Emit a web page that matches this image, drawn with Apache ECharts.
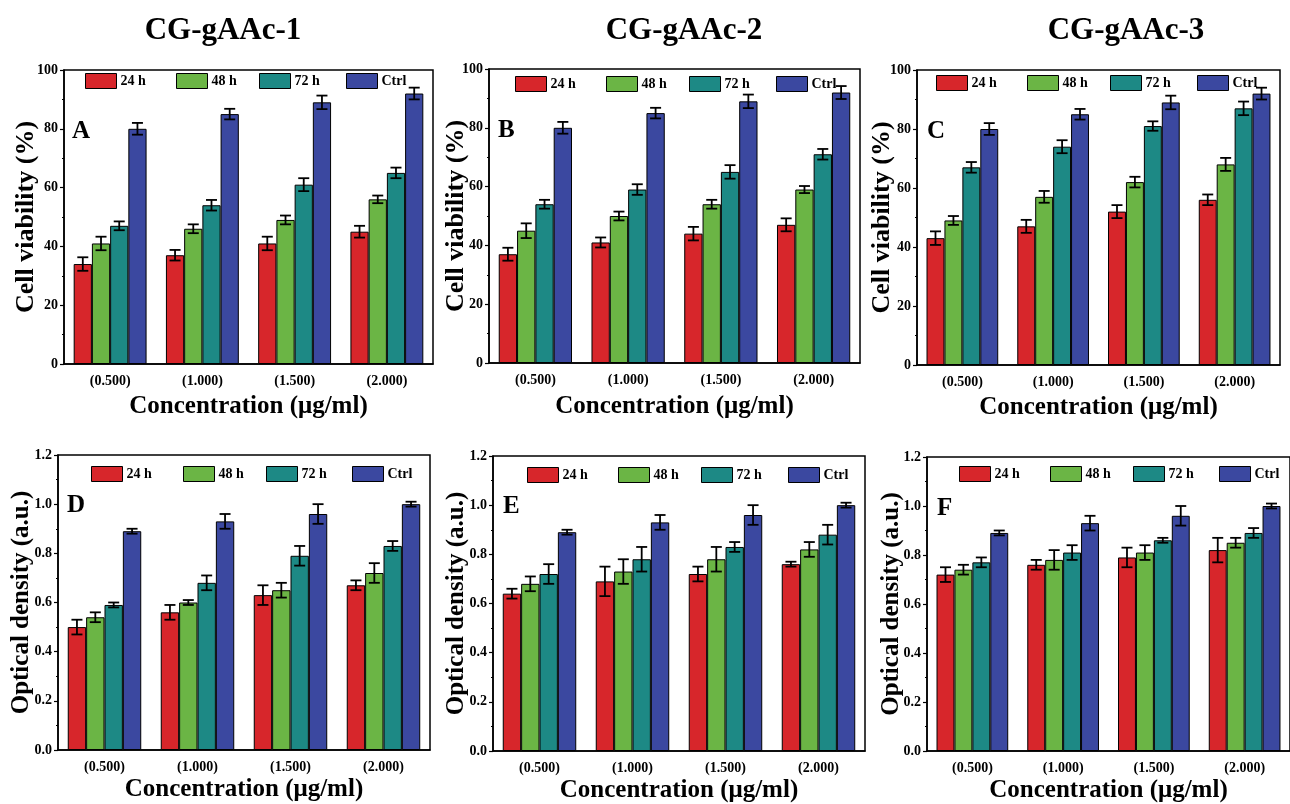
<!DOCTYPE html>
<html><head><meta charset="utf-8">
<script src="https://cdn.jsdelivr.net/npm/echarts@6/dist/echarts.min.js"></script>
<style>html,body{margin:0;padding:0;background:#fff}#c{width:1290px;height:804px}</style>
</head><body><div id="c"></div>
<script>
// ---------- data ----------
const categories = ['(0.500)', '(1.000)', '(1.500)', '(2.000)'];
const seriesNames = ['24 h', '48 h', '72 h', 'Ctrl'];
const columnTitles = ['CG-gAAc-1', 'CG-gAAc-2', 'CG-gAAc-3'];
const panelLetters = ['A', 'B', 'C', 'D', 'E', 'F'];
const viabilityName = 'Cell viability (%)';
const densityName = 'Optical density (a.u.)';
const xName = 'Concentration (\u03bcg/ml)';

// Cell viability (%) – rows: 24 h, 48 h, 72 h, Ctrl; columns: categories
const viabA = [[34, 37, 41, 45], [41, 46, 49, 56], [47, 54, 61, 65], [80, 85, 89, 92]];
const viabAErr = [[2.3, 1.8, 2.3, 2.0], [2.3, 1.5, 1.5, 1.3], [1.5, 1.8, 2.2, 1.8], [2.0, 1.8, 2.3, 2.0]];
const viabB = [[37, 41, 44, 47], [45, 50, 54, 59], [54, 59, 65, 71], [80, 85, 89, 92]];
const viabBErr = [[2.2, 1.7, 2.3, 2.2], [2.5, 1.5, 1.5, 1.2], [1.5, 1.8, 2.3, 1.8], [2.0, 1.8, 2.3, 2.2]];
const viabC = [[43, 47, 52, 56], [49, 57, 62, 68], [67, 74, 81, 87], [80, 85, 89, 92]];
const viabCErr = [[2.3, 2.2, 2.2, 1.8], [1.5, 2.0, 1.8, 2.2], [1.8, 2.2, 1.6, 2.3], [2.0, 1.8, 2.3, 2.0]];

// Optical density (a.u.)
const odD = [[0.50, 0.56, 0.63, 0.67], [0.54, 0.60, 0.65, 0.72], [0.59, 0.68, 0.79, 0.83], [0.89, 0.93, 0.96, 1.00]];
const odDErr = [[0.03, 0.03, 0.04, 0.02], [0.02, 0.01, 0.03, 0.04], [0.01, 0.03, 0.04, 0.02], [0.01, 0.03, 0.04, 0.01]];
const odE = [[0.64, 0.69, 0.72, 0.76], [0.68, 0.73, 0.78, 0.82], [0.72, 0.78, 0.83, 0.88], [0.89, 0.93, 0.96, 1.00]];
const odEErr = [[0.02, 0.06, 0.03, 0.01], [0.03, 0.05, 0.05, 0.03], [0.04, 0.05, 0.02, 0.04], [0.01, 0.03, 0.04, 0.01]];
const odF = [[0.72, 0.76, 0.79, 0.82], [0.74, 0.78, 0.81, 0.85], [0.77, 0.81, 0.86, 0.89], [0.89, 0.93, 0.96, 1.00]];
const odFErr = [[0.03, 0.02, 0.04, 0.05], [0.02, 0.04, 0.03, 0.02], [0.02, 0.03, 0.01, 0.02], [0.01, 0.03, 0.04, 0.01]];

// ---------- styling / layout ----------
const colors = ['#d7262b', '#6bb545', '#1d8985', '#3b48a0'];
const FONT = '"Liberation Serif", "Times New Roman", serif';
const CAT_GAP = 0.21;

const panels = [
  { vals: viabA, errs: viabAErr, grid: { left: 64, top: 70, width: 369, height: 294 }, legX: [85, 176, 259, 346], legY: 73, letter: [72, 119], yName: viabilityName, yFs: 26, yMax: 100, yInt: 20, yGap: 25, xGap: 30, dec: 0 },
  { vals: viabB, errs: viabBErr, grid: { left: 489, top: 69, width: 371, height: 294 }, legX: [515, 606, 689, 776], legY: 76, letter: [498, 118], yName: viabilityName, yFs: 26, yMax: 100, yInt: 20, yGap: 20, xGap: 31, dec: 0 },
  { vals: viabC, errs: viabCErr, grid: { left: 917, top: 70, width: 363, height: 295 }, legX: [936, 1027, 1110, 1197], legY: 75, letter: [927, 119], yName: viabilityName, yFs: 26, yMax: 100, yInt: 20, yGap: 22, xGap: 30, dec: 0 },
  { vals: odD, errs: odDErr, grid: { left: 58, top: 455, width: 372, height: 295 }, legX: [91, 183, 266, 352], legY: 466, letter: [67, 493], yName: densityName, yFs: 25, yMax: 1.2, yInt: 0.2, yGap: 24, xGap: 27, dec: 1 },
  { vals: odE, errs: odEErr, grid: { left: 493, top: 456, width: 372, height: 296 }, legX: [527, 618, 701, 788], legY: 467, letter: [503, 494], yName: densityName, yFs: 25, yMax: 1.2, yInt: 0.2, yGap: 24, xGap: 27, dec: 1 },
  { vals: odF, errs: odFErr, grid: { left: 927, top: 457, width: 370, height: 295 }, legX: [959, 1050, 1133, 1219], legY: 466, letter: [937, 496], yName: densityName, yFs: 25, yMax: 1.2, yInt: 0.2, yGap: 23, xGap: 27, dec: 1 }
];
const titleCenters = [218, 679, 1121];

const grids = [], xAxes = [], yAxes = [], series = [], legends = [], graphics = [];

panels.forEach((p, pi) => {
  grids.push(Object.assign({ show: true, borderColor: '#000', borderWidth: 1.5, backgroundColor: 'transparent' }, p.grid));
  xAxes.push({
    gridIndex: pi, type: 'category', data: categories,
    name: xName, nameLocation: 'middle', nameGap: p.xGap, nameMoveOverlap: false,
    nameTextStyle: { fontFamily: FONT, fontWeight: 'bold', fontSize: 25, color: '#000' },
    axisLine: { lineStyle: { color: '#000', width: 1.5 } },
    axisTick: { alignWithLabel: true, length: 4, lineStyle: { color: '#000', width: 1.2 } },
    axisLabel: { fontFamily: FONT, fontWeight: 'bold', fontSize: 14, color: '#000', margin: 10 },
    splitLine: { show: false }
  });
  yAxes.push({
    gridIndex: pi, type: 'value', min: 0, max: p.yMax, interval: p.yInt,
    name: p.yName, nameLocation: 'middle', nameGap: p.yGap, nameMoveOverlap: false,
    nameTextStyle: { fontFamily: FONT, fontWeight: 'bold', fontSize: p.yFs, color: '#000' },
    axisLine: { show: true, lineStyle: { color: '#000', width: 1.5 } },
    axisTick: { show: true, length: 4, lineStyle: { color: '#000', width: 1.2 } },
    minorTick: { show: true, splitNumber: 2, length: 2, lineStyle: { color: '#000', width: 1 } },
    axisLabel: { fontFamily: FONT, fontWeight: 'bold', fontSize: 14, color: '#000', margin: 6,
      formatter: v => v.toFixed(p.dec) },
    splitLine: { show: false }
  });
  p.vals.forEach((row, si) => {
    series.push({
      type: 'bar', name: seriesNames[si], xAxisIndex: pi, yAxisIndex: pi,
      data: row, barGap: '0%', barCategoryGap: (CAT_GAP * 100) + '%',
      itemStyle: { color: colors[si], borderColor: '#000', borderWidth: 1 },
      emphasis: { disabled: true }
    });
  });
  p.vals.forEach((row, si) => {
    const errRow = p.errs[si];
    series.push({
      type: 'custom', name: 'err' + pi + '_' + si, xAxisIndex: pi, yAxisIndex: pi, z: 5,
      encode: { x: 0, y: [1, 2] }, clip: false, silent: true,
      data: row.map((v, i) => [i, v - errRow[i], v + errRow[i]]),
      renderItem: (params, api) => {
        const ci = api.value(0);
        const lo = api.coord([ci, api.value(1)]);
        const hi = api.coord([ci, api.value(2)]);
        const band = api.size([1, 0])[0];
        const groupW = band * (1 - CAT_GAP);
        const bw = groupW / 4;
        const cx = lo[0] - groupW / 2 + bw * (si + 0.5);
        const cap = 5.5;
        const st = { stroke: '#000', lineWidth: 1.8 };
        return { type: 'group', children: [
          { type: 'line', shape: { x1: cx, y1: lo[1], x2: cx, y2: hi[1] }, style: st },
          { type: 'line', shape: { x1: cx - cap, y1: lo[1], x2: cx + cap, y2: lo[1] }, style: st },
          { type: 'line', shape: { x1: cx - cap, y1: hi[1], x2: cx + cap, y2: hi[1] }, style: st }
        ] };
      }
    });
  });
  seriesNames.forEach((nm, si) => {
    legends.push({
      left: p.legX[si], top: p.legY, padding: 0, orient: 'horizontal',
      data: [nm], itemWidth: 31, itemHeight: 15, selectedMode: false,
      icon: 'rect',
      itemStyle: { borderColor: '#000', borderWidth: 1 },
      textStyle: { fontFamily: FONT, fontWeight: 'bold', fontSize: 14, color: '#000', padding: [0, 0, 0, -1] }
    });
  });
  graphics.push({
    type: 'text', left: p.letter[0], top: p.letter[1],
    style: { text: panelLetters[pi], fontFamily: FONT, fontWeight: 'bold', fontSize: 25, fill: '#000' }
  });
});

const titles = columnTitles.map((t, i) => ({
  text: t, left: titleCenters[i], top: 10, textAlign: 'center',
  textStyle: { fontFamily: FONT, fontWeight: 'bold', fontSize: 31, color: '#000' }
}));

const chart = echarts.init(document.getElementById('c'));
chart.setOption({
  animation: false,
  backgroundColor: '#fff',
  title: titles,
  grid: grids, xAxis: xAxes, yAxis: yAxes,
  legend: legends, series: series, graphic: graphics
});
</script>
</body></html>
